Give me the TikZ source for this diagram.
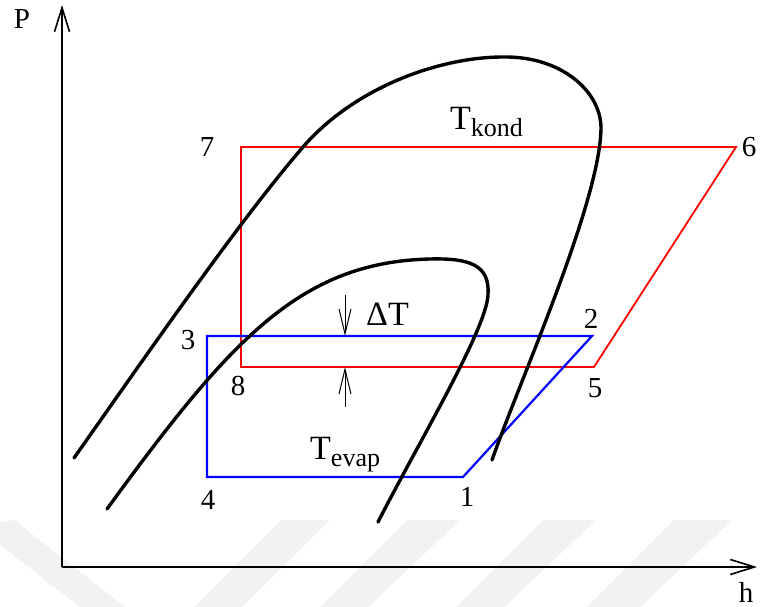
\documentclass[tikz,border=0pt]{standalone}
\usepackage{fontspec}
\setmainfont{Liberation Serif}
\usetikzlibrary{arrows.meta}

\begin{document}
\begin{tikzpicture}[x=1pt, y=-1pt,
  lbl/.style={inner sep=0pt, font=\fontsize{29}{30}\selectfont},
  big/.style={inner sep=0pt, anchor=base west, font=\fontsize{34}{36}\selectfont},
  dome/.style={line width=3.4pt, line cap=round},
  axis/.style={line width=1.6pt, -{Straight Barb[length=24pt,width=15pt]}},
  gap/.style={line width=1pt, -{Straight Barb[length=25pt,width=12pt]}}]
  \useasboundingbox (0,0) rectangle (760,607);
  % faint stripes at the bottom
  \fill[black!5] (0,522) -- (14,520) -- (125,607) -- (80,607) -- (0,545) -- cycle;
  \fill[black!5] (281,520) -- (330,520) -- (242,607) -- (194,607) -- cycle;
  \fill[black!5] (407,520) -- (460,520) -- (368,607) -- (320,607) -- cycle;
  \fill[black!5] (543,520) -- (596,520) -- (504,607) -- (456,607) -- cycle;
  \fill[black!5] (674,520) -- (732,520) -- (640,607) -- (587,607) -- cycle;
  % axes
  \coordinate (O) at (62,567);
  \coordinate (Ptip) at (62,5);
  \coordinate (htip) at (757,567);
  \draw[axis] (O) -- (Ptip);
  \draw[axis] (O) -- (htip);
  % corners of the two cycles
  \coordinate (c1) at (463,477);
  \coordinate (c2) at (592,336);
  \coordinate (c3) at (207,336);
  \coordinate (c4) at (207,477);
  \coordinate (c5) at (594,367);
  \coordinate (c6) at (736,147);
  \coordinate (c7) at (241,147);
  \coordinate (c8) at (241,367);
  \draw[red, line width=1.8pt] (c5) -- (c6) -- (c7) -- (c8) -- cycle;
  \draw[blue, line width=2.2pt] (c1) -- (c2) -- (c3) -- (c4) -- cycle;
  % saturation curves
  \draw[dome] (74,458) .. controls (150,350) and (240,220) .. (303,147)
    .. controls (355,87) and (440,57) .. (503,57)
    .. controls (560,56) and (600,90) .. (601,127)
    .. controls (601,200) and (520,380) .. (492,460);
  \draw[dome] (107,509) .. controls (230,340) and (300,262) .. (430,259)
    .. controls (470,258) and (490,265) .. (488,295)
    .. controls (486,330) and (420,440) .. (378,522);
  % temperature gap
  \coordinate (dtop) at (345,295);
  \coordinate (dbot) at (345,407);
  \draw[gap] (dtop) -- (dtop |- c3);
  \draw[gap] (dbot) -- (dbot |- c8);
  % labels
  \node[lbl] (nP) at (22,19) {P};
  \node[lbl] (nh) at (746,592) {h};
  \node[lbl] (n1) at (467,497) {1};
  \node[lbl] (n2) at (591,319) {2};
  \node[lbl] (n3) at (188,340) {3};
  \node[lbl] (n4) at (208,500) {4};
  \node[lbl] (n5) at (595,388) {5};
  \node[lbl] (n6) at (749,147) {6};
  \node[lbl] (n7) at (207,147) {7};
  \node[lbl] (n8) at (238,386) {8};
  \node[big] (tk) at (450,130) {T\raisebox{-7pt}{\fontsize{26}{26}\selectfont kond}};
  \node[big] (te) at (310,459) {T\raisebox{-7pt}{\fontsize{26}{26}\selectfont evap}};
  \node[big] (dT) at (366,325) {ΔT};
\end{tikzpicture}
\end{document}
